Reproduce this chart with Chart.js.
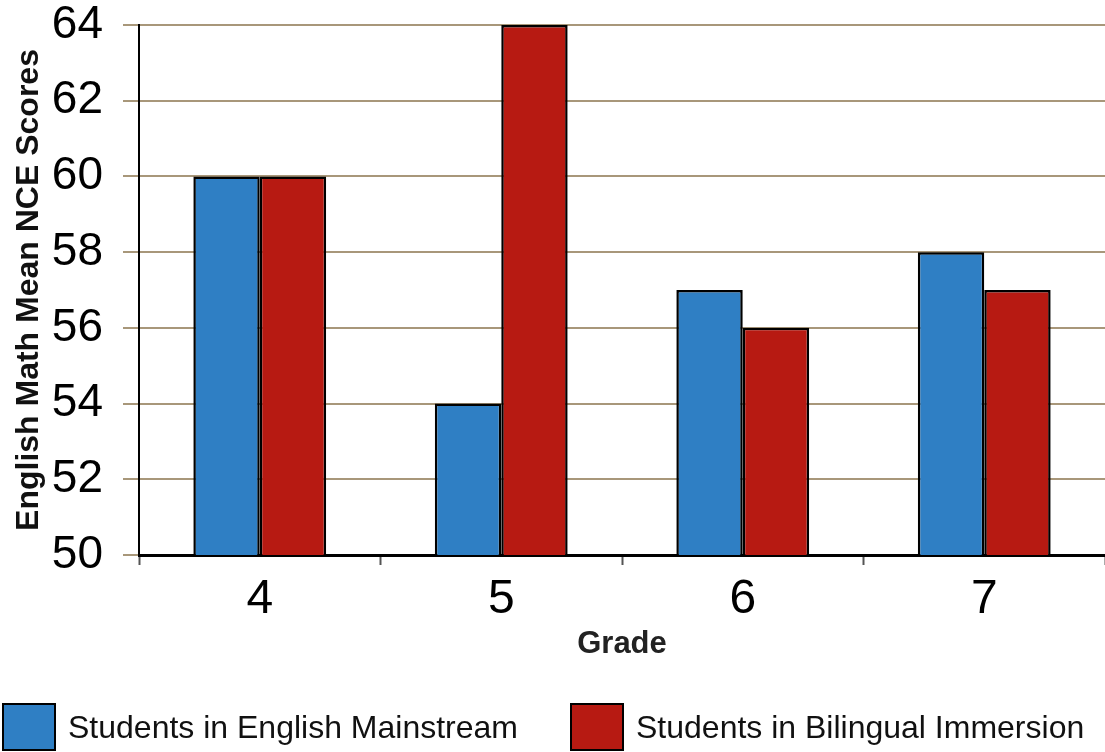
<!DOCTYPE html>
<html>
<head>
<meta charset="utf-8">
<script src="https://cdn.jsdelivr.net/npm/chart.js@4/dist/chart.umd.min.js"></script>
<style>
  html, body { margin: 0; padding: 0; background: #fff; }
  #wrap { position: relative; width: 1105px; height: 752px; }
  #legend { position: absolute; left: 0; top: 703px; width: 1105px; height: 48px; }
  .item { position: absolute; top: 0; display: flex; align-items: center; height: 48px;
          font-family: 'Liberation Sans', Arial, sans-serif; font-size: 32px; color: #111; }
  .item .box { width: 50px; height: 44px; border: 2px solid #000; margin-right: 12px; }
</style>
</head>
<body>
<div id="wrap">
  <canvas id="chart"></canvas>
  <div id="legend"></div>
</div>
<script>
const grades = ['4', '5', '6', '7'];
const mainstream = [60, 54, 57, 58];
const immersion = [60, 64, 56, 57];
const yTicks = [50, 52, 54, 56, 58, 60, 62, 64];

const gridTan = '#a8977a';

const ctx = document.getElementById('chart').getContext('2d');
const chart = new Chart(ctx, {
  type: 'bar',
  data: {
    labels: grades,
    datasets: [
      {
        label: 'Students in English Mainstream',
        data: mainstream,
        backgroundColor: '#2f7fc4',
        borderColor: '#000',
        borderWidth: 2.5,
        borderSkipped: false
      },
      {
        label: 'Students in Bilingual Immersion',
        data: immersion,
        backgroundColor: '#b71a12',
        borderColor: '#000',
        borderWidth: 2.5,
        borderSkipped: false
      }
    ]
  },
  options: {
    responsive: true,
    maintainAspectRatio: false,
    animation: false,
    layout: { padding: { top: 25, right: 0, left: 0, bottom: 93 } },
    datasets: { bar: { categoryPercentage: 0.55, barPercentage: 1.0 } },
    plugins: {
      tooltip: { enabled: false },
      legend: { display: false }
    },
    scales: {
      x: {
        afterFit: s => { s.height = 104; s.paddingLeft = 0; s.paddingRight = 0; },
        grid: {
          offset: true,
          drawOnChartArea: false,
          drawTicks: true,
          tickLength: 10,
          tickColor: '#555',
          tickWidth: 2
        },
        border: { color: '#000', width: 3 },
        ticks: {
          color: '#000',
          padding: 6,
          font: { family: 'Liberation Sans, Arial', size: 48 }
        },
        title: {
          display: true,
          text: 'Grade',
          color: '#222',
          padding: { top: 0, bottom: -4 },
          font: { family: 'Liberation Sans, Arial', size: 31, weight: 'bold' }
        }
      },
      y: {
        min: 50,
        max: 64,
        afterFit: s => { s.width = 139; s.paddingTop = 0; s.paddingBottom = 0; },
        afterBuildTicks: s => {
          const t = [];
          for (let v = 50; v <= 64; v++) t.push({ value: v });
          s.ticks = t;
        },
        grid: {
          color: c => (c.tick && yTicks.includes(c.tick.value)) ? gridTan : 'rgba(0,0,0,0)',
          lineWidth: 2,
          tickLength: 16,
          tickColor: c => (c.tick && yTicks.includes(c.tick.value)) ? gridTan : '#222',
          tickWidth: 2
        },
        border: { color: '#000', width: 2 },
        ticks: {
          color: '#000',
          padding: 20,
          callback: v => yTicks.includes(v) ? String(v) : '',
          font: { family: 'Liberation Sans, Arial', size: 46 }
        },
        title: {
          display: true,
          text: 'English Math Mean NCE Scores',
          color: '#111',
          padding: { top: 10, bottom: 4 },
          font: { family: 'Liberation Sans, Arial', size: 32, weight: 'bold' }
        }
      }
    }
  }
});

// legend built from the chart's datasets
const legendLeft = [2, 570];
const legendEl = document.getElementById('legend');
chart.data.datasets.forEach((ds, i) => {
  const item = document.createElement('div');
  item.className = 'item';
  item.style.left = legendLeft[i] + 'px';
  const box = document.createElement('span');
  box.className = 'box';
  box.style.background = ds.backgroundColor;
  item.appendChild(box);
  item.appendChild(document.createTextNode(ds.label));
  legendEl.appendChild(item);
});
</script>
</body>
</html>
